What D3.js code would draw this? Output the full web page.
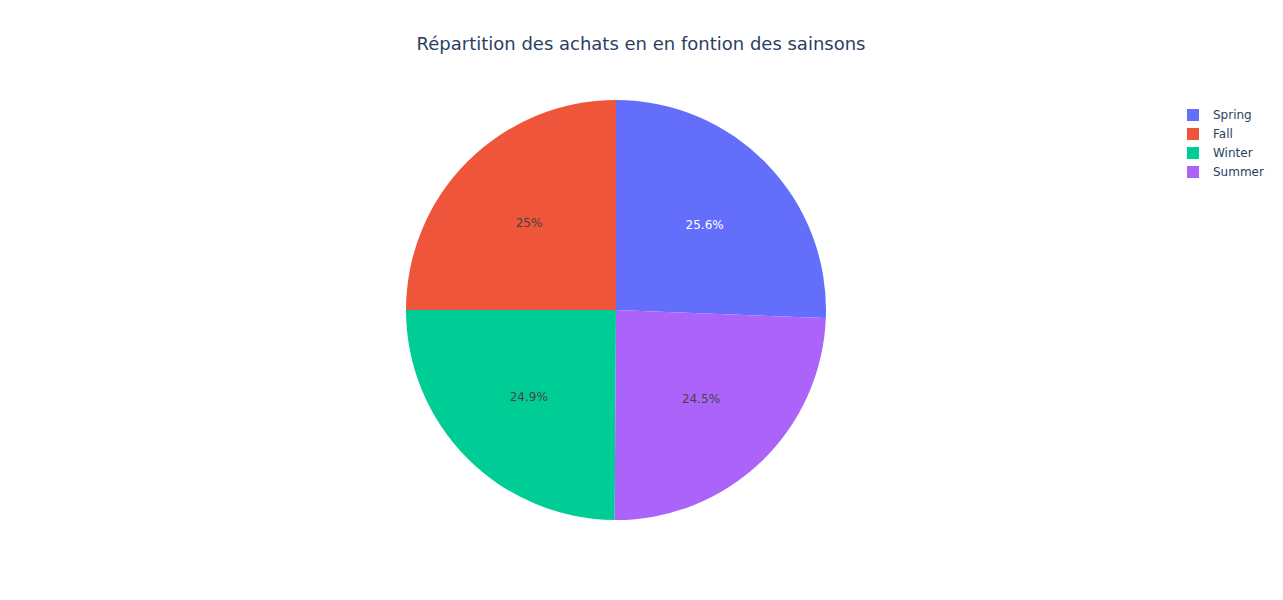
<!DOCTYPE html>
<html>
<head>
<meta charset="utf-8">
<script src="https://cdn.jsdelivr.net/npm/d3@7"></script>
<style>
  html, body { margin: 0; padding: 0; background: #fff; }
  svg { display: block; }
</style>
</head>
<body>
<svg id="chart" width="1283" height="600"></svg>
<script>
// Data (legend order, sorted by value descending)
const categories = ["Spring", "Fall", "Winter", "Summer"];
const counts = [999, 975, 971, 955];
const colors = ["#636efa", "#ef553b", "#00cc96", "#ab63fa"];
const textColors = ["#ffffff", "#444444", "#444444", "#444444"];
const titleText = "Répartition des achats en en fontion des sainsons";

const font = "'DejaVu Sans', Verdana, sans-serif";
const svg = d3.select("#chart");
const W = 1283, H = 600;
svg.append("rect").attr("width", W).attr("height", H).attr("fill", "#fff");

const cx = 616, cy = 310, R = 210;
const total = d3.sum(counts);

// First slice (Spring) goes clockwise from 12 o'clock; the others follow
// counter-clockwise from 12 o'clock (Plotly counterclockwise layout).
const data = categories.map((c, i) => ({ cat: c, value: counts[i], color: colors[i], tc: textColors[i] }));
const angleScale = d3.scaleLinear().domain([0, total]).range([0, 2 * Math.PI]);
let arcs = [];
arcs.push({ d: data[0], startAngle: 0, endAngle: angleScale(data[0].value) });
let cur = 2 * Math.PI;
for (let i = 1; i < data.length; i++) {
  const a = angleScale(data[i].value);
  arcs.push({ d: data[i], startAngle: cur - a, endAngle: cur });
  cur -= a;
}

const arc = d3.arc().innerRadius(0).outerRadius(R);
const g = svg.append("g").attr("transform", `translate(${cx},${cy})`);
g.selectAll("path.slice").data(arcs).join("path")
  .attr("class", "slice")
  .attr("d", arc)
  .attr("fill", a => a.d.color);

const fmt = v => {
  const p = v / total * 100;
  return (+p.toPrecision(3)).toString() + "%";
};
const labelR = 123;
g.selectAll("text.lbl").data(arcs).join("text")
  .attr("class", "lbl")
  .attr("x", a => labelR * Math.sin((a.startAngle + a.endAngle) / 2))
  .attr("y", a => -labelR * Math.cos((a.startAngle + a.endAngle) / 2))
  .attr("dy", "0.35em")
  .attr("text-anchor", "middle")
  .attr("font-family", font)
  .attr("font-size", 12)
  .attr("fill", a => a.d.tc)
  .text(a => fmt(a.d.value));

// Title
svg.append("text")
  .attr("x", 641).attr("y", 50)
  .attr("text-anchor", "middle")
  .attr("font-family", font)
  .attr("font-size", 18)
  .attr("fill", "#2a3f5f")
  .text(titleText);

// Legend
const leg = svg.append("g").attr("transform", "translate(1187,115)");
const items = leg.selectAll("g").data(data).join("g")
  .attr("transform", (d, i) => `translate(0,${i * 19})`);
items.append("rect")
  .attr("x", 0).attr("y", -6).attr("width", 12).attr("height", 12)
  .attr("fill", d => d.color);
items.append("text")
  .attr("x", 26).attr("y", 0).attr("dy", "0.35em")
  .attr("font-family", font)
  .attr("font-size", 12)
  .attr("fill", "#2a3f5f")
  .text(d => d.cat);
</script>
</body>
</html>
